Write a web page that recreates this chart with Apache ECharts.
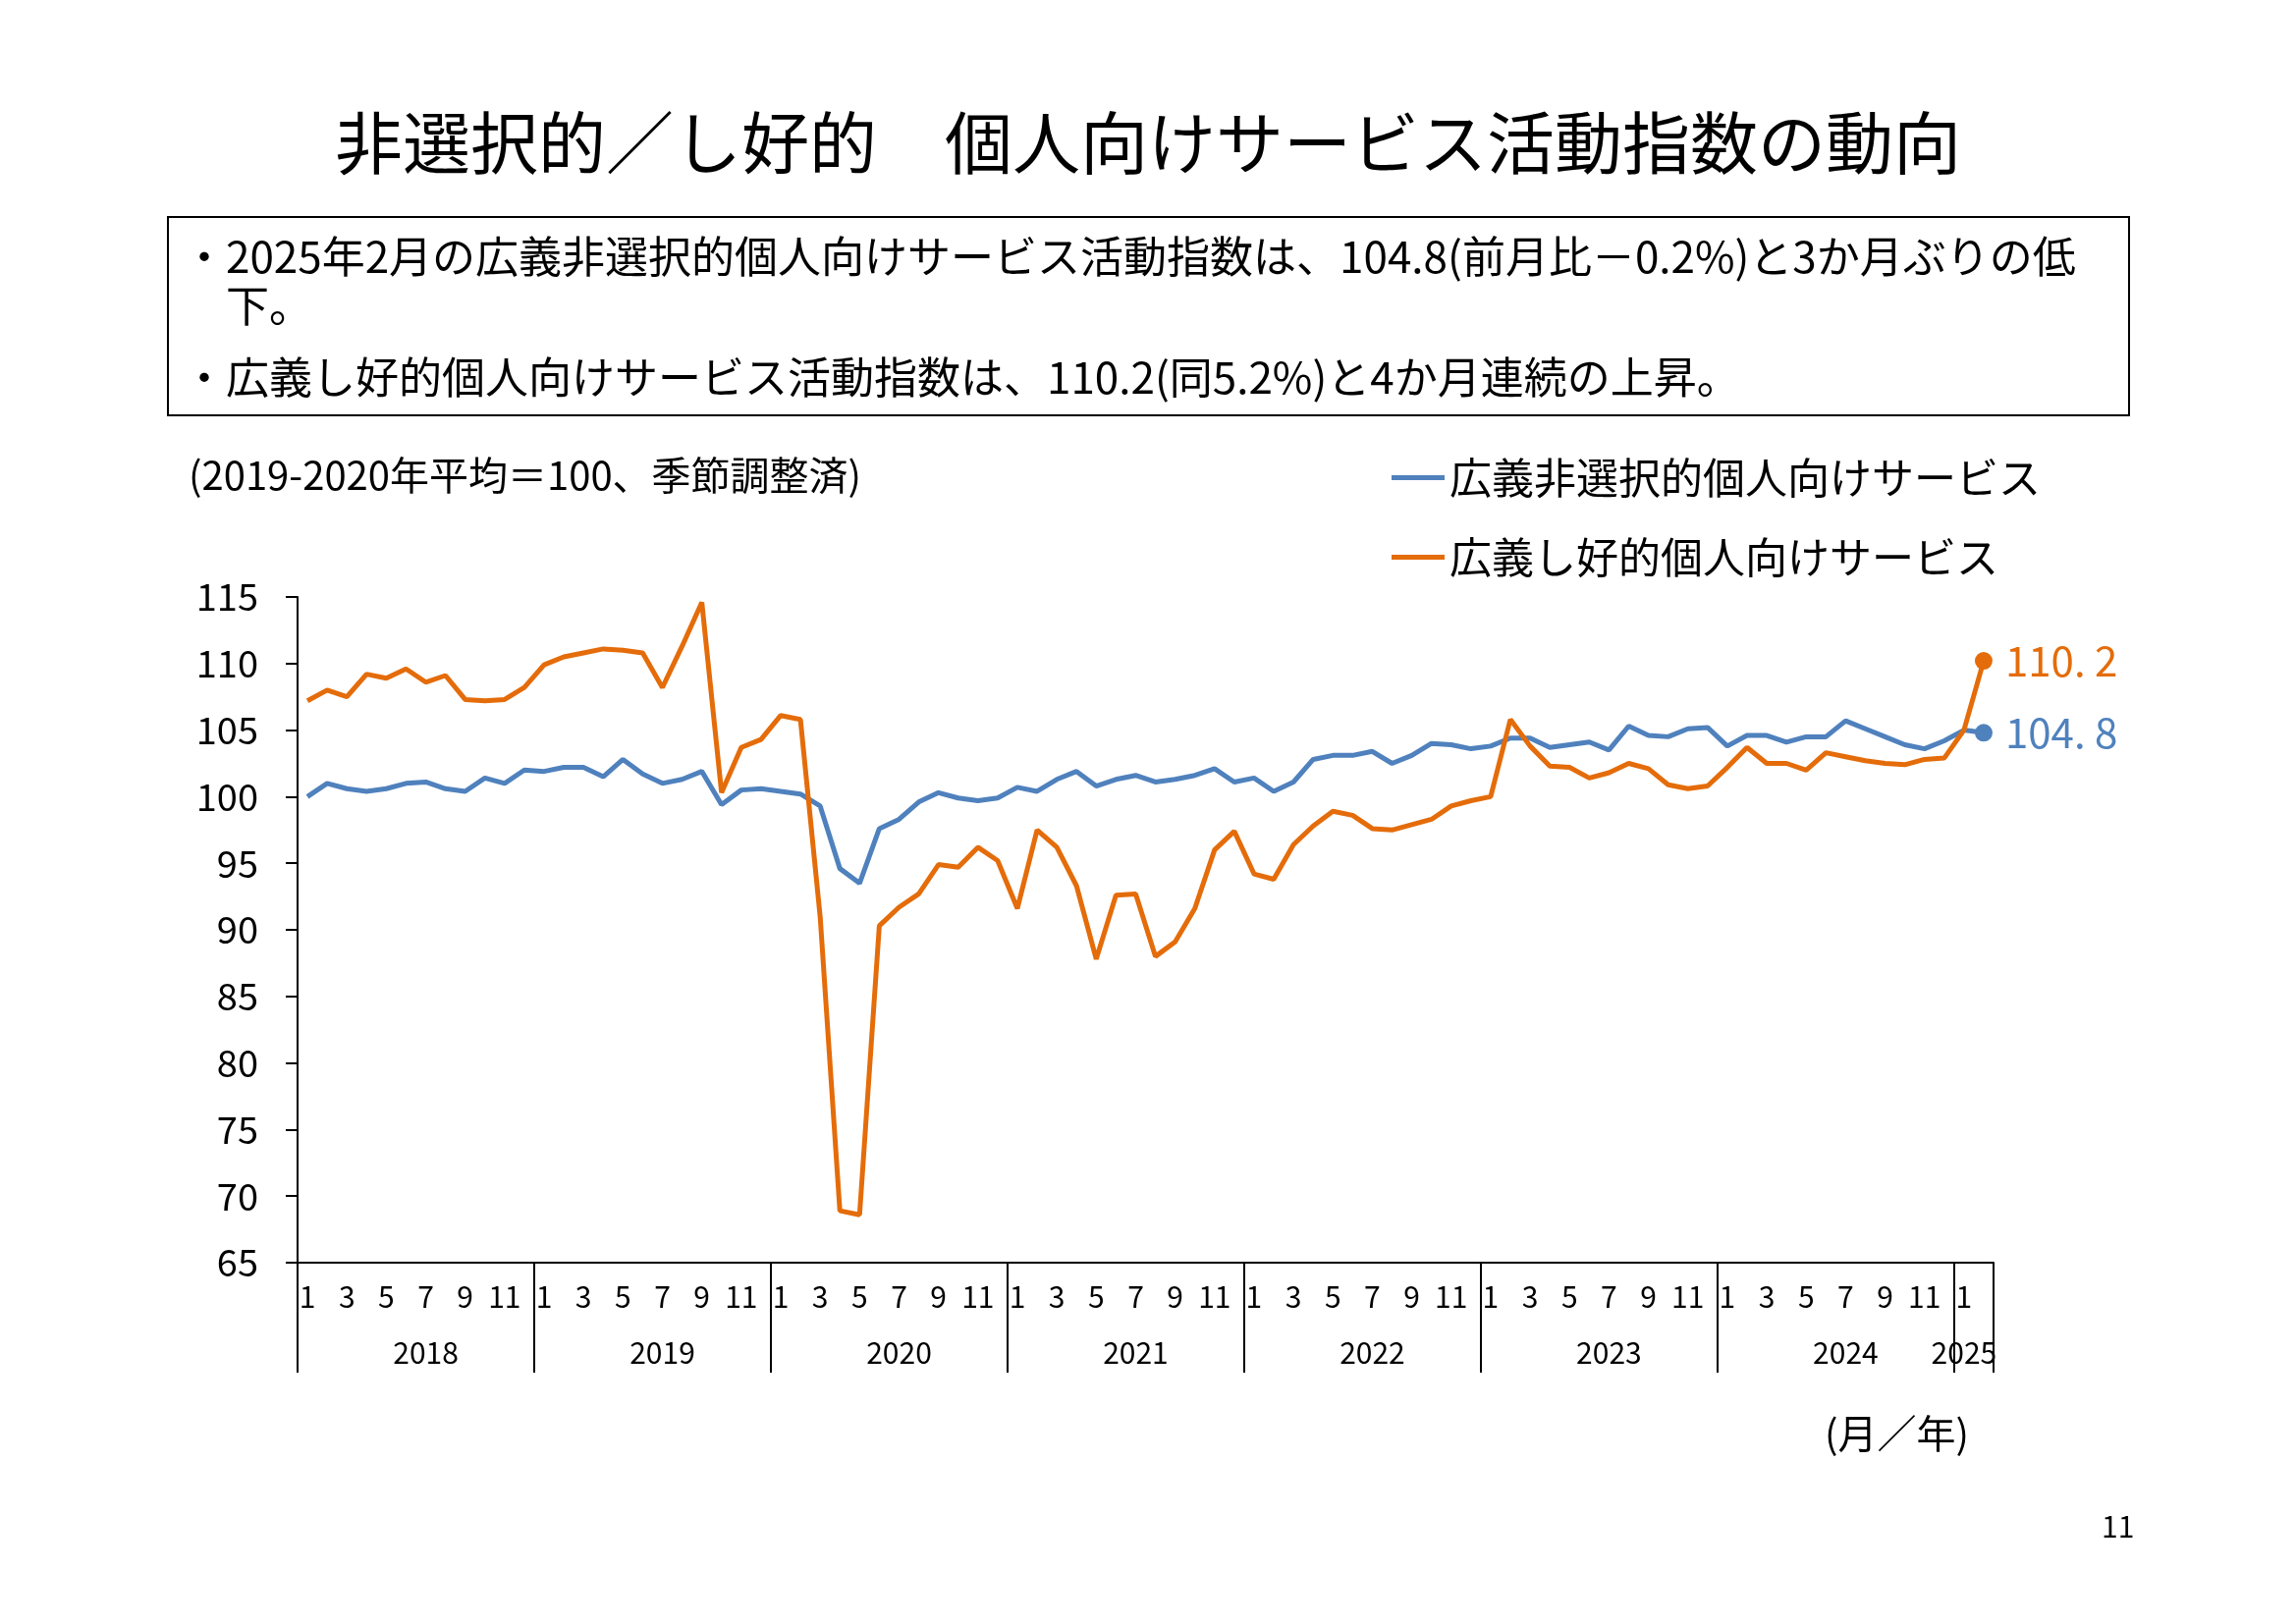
<!DOCTYPE html>
<html><head><meta charset="utf-8">
<script src="https://cdn.jsdelivr.net/npm/echarts@6/dist/echarts.min.js"></script>
<style>html,body{margin:0;padding:0;background:#fff}#c{width:2338px;height:1654px}</style>
</head><body><div id="c"></div>
<script>
const years = ['2018','2019','2020','2021','2022','2023','2024','2025'];
const months = [];
years.forEach(y => { const n = y === '2025' ? 2 : 12; for (let m = 1; m <= n; m++) months.push(y + '/' + m); });
const nonSelective = [
100,101,100.6,100.4,100.6,101,101.1,100.6,100.4,101.4,101,102,
101.9,102.2,102.2,101.5,102.8,101.7,101,101.3,101.9,99.4,100.5,100.6,
100.4,100.2,99.3,94.6,93.5,97.6,98.3,99.6,100.3,99.9,99.7,99.9,
100.7,100.4,101.3,101.9,100.8,101.3,101.6,101.1,101.3,101.6,102.1,101.1,
101.4,100.4,101.1,102.8,103.1,103.1,103.4,102.5,103.1,104,103.9,103.6,
103.8,104.4,104.4,103.7,103.9,104.1,103.5,105.3,104.6,104.5,105.1,105.2,
103.8,104.6,104.6,104.1,104.5,104.5,105.7,105.1,104.5,103.9,103.6,104.2,
105.0,104.8];
const selective = [
107.2,108,107.5,109.2,108.9,109.6,108.6,109.1,107.3,107.2,107.3,108.2,
109.9,110.5,110.8,111.1,111,110.8,108.2,111.3,114.6,100.3,103.7,104.3,
106.1,105.8,91,68.9,68.6,90.3,91.7,92.7,94.9,94.7,96.2,95.2,
91.6,97.5,96.2,93.3,87.8,92.6,92.7,88,89.1,91.6,96,97.4,
94.2,93.8,96.4,97.8,98.9,98.6,97.6,97.5,97.9,98.3,99.3,99.7,
100,105.8,103.8,102.3,102.2,101.4,101.8,102.5,102.1,100.9,100.6,100.8,
102.2,103.7,102.5,102.5,102,103.3,103,102.7,102.5,102.4,102.8,102.9,
105,110.2];
const seriesNames = ['広義非選択的個人向けサービス','広義し好的個人向けサービス'];
const F = '"Noto Sans CJK JP", sans-serif';
const last = months.length - 1;
const chart = echarts.init(document.getElementById('c'));
function mkSeries(name, data, color){
  return {name, type:'line', data, xAxisIndex:0, yAxisIndex:0,
    lineStyle:{color, width:5}, itemStyle:{color},
    showSymbol:true, symbol:'circle',
    symbolSize:(v,p)=> p.dataIndex===last ? 18 : 0,
    emphasis:{disabled:true}, animation:false,
    endLabel:{show:true, color, fontFamily:F, fontSize:42, distance:22,
      formatter:p=> p.value.toFixed(1).replace('.', '. ')}};
}
chart.setOption({
  animation:false,
  textStyle:{fontFamily:F},
  title:{text:'非選択的／し好的　個人向けサービス活動指数の動向', left:'center', top:106,
    textStyle:{fontFamily:F, fontSize:69, fontWeight:'normal', color:'#000'}},
  graphic:[
    {type:'rect', shape:{x:171,y:221,width:1997,height:202}, style:{fill:'none', stroke:'#000', lineWidth:2}},
    {type:'text', left:186, top:236, style:{text:'・2025年2月の広義非選択的個人向けサービス活動指数は、104.8(前月比－0.2%)と3か月ぶりの低\n　下。', font:'44px "Noto Sans CJK JP"', lineHeight:50, fill:'#000'}},
    {type:'text', left:186, top:362, style:{text:'・広義し好的個人向けサービス活動指数は、110.2(同5.2%)と4か月連続の上昇。', font:'44px "Noto Sans CJK JP"', fill:'#000'}},
    {type:'text', left:192, top:464, style:{text:'(2019-2020年平均＝100、季節調整済)', font:'40px "Noto Sans CJK JP"', fill:'#000'}},
    {type:'text', left:1858, top:1440, style:{text:'(月／年)', font:'40px "Noto Sans CJK JP"', fill:'#000'}},
    {type:'text', left:2140, top:1540, style:{text:'11', font:'30px "Noto Sans CJK JP"', fill:'#000'}}
  ],
  legend:{orient:'vertical', left:1412, top:460, itemGap:38, itemWidth:54, itemHeight:5,
    icon:'rect', data:seriesNames, textStyle:{fontFamily:F, fontSize:43, color:'#000'}},
  grid:{left:303, right:2338-2030, top:608, bottom:1654-1286, containLabel:false},
  xAxis:[
    {type:'category', data:months, boundaryGap:true,
      axisLine:{lineStyle:{color:'#000', width:2}}, axisTick:{show:false},
      axisLabel:{interval:0, color:'#000', fontSize:30, fontFamily:F, margin:20,
        formatter:(v,i)=>{const m=+v.split('/')[1]; return (m%2===1)? String(m): '';}}},
    {type:'category', data:months, boundaryGap:true, position:'bottom',
      axisLine:{show:false},
      axisTick:{show:true, length:112, interval:(i)=> i%12===0, lineStyle:{color:'#000', width:2}},
      axisLabel:{interval:0, color:'#000', fontSize:30, fontFamily:F, margin:77,
        formatter:(v,i)=>{const p=v.split('/'); if(p[0]==='2025') return p[1]==='1'?'2025':''; return p[1]==='7'?p[0]:'';}}}
  ],
  yAxis:{type:'value', min:65, max:115, interval:5,
    axisLine:{show:true, lineStyle:{color:'#000', width:2}},
    axisTick:{show:true, length:12, lineStyle:{color:'#000', width:2}},
    splitLine:{show:false},
    axisLabel:{color:'#000', fontSize:38, fontFamily:F, margin:40}},
  series:[
    mkSeries(seriesNames[0], nonSelective, '#4F81BD'),
    mkSeries(seriesNames[1], selective, '#E46C0A')
  ]
});
</script></body></html>
